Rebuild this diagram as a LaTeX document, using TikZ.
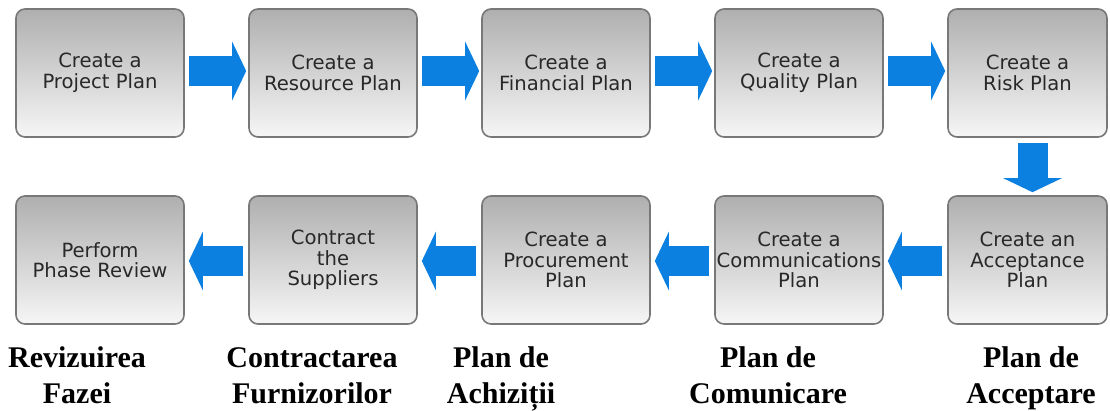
\documentclass[tikz,border=0pt]{standalone}
\usepackage{fontspec}
\usepackage{tikz}
\usetikzlibrary{arrows.meta}
\newfontfamily\boxfont{DejaVu Sans}
\newfontfamily\labelfont{Liberation Serif}
\definecolor{boxtop}{RGB}{175,175,175}
\definecolor{boxbottom}{RGB}{246,246,246}
\definecolor{boxedge}{RGB}{120,120,120}
\definecolor{boxtext}{RGB}{40,40,40}
\definecolor{flowblue}{RGB}{12,128,224}
\tikzset{
  stepbox/.style={rectangle, rounded corners=9pt, draw=boxedge, line width=1.6pt,
    top color=boxtop, bottom color=boxbottom, minimum width=168pt, minimum height=128pt,
    inner sep=0pt, align=center, text=boxtext, font=\boxfont\fontsize{19.6}{20.6}\selectfont},
  lastbox/.style={stepbox, minimum width=159pt},
  flowarrow/.style={draw=flowblue, line width=30pt, -{Triangle[length=14pt,width=58pt]}},
  roname/.style={anchor=north, inner sep=0pt, align=center,
    font=\labelfont\bfseries\fontsize{30}{36}\selectfont}
}
\begin{document}
\begin{tikzpicture}[x=1pt,y=1pt]
        \useasboundingbox (0,0) rectangle (1110,410);
        \fill[white] (0,0) rectangle (1110,410);

        % first row
        \node[stepbox] (project) at (100,337) {Create a\\Project Plan};
        \node[stepbox] (resource) at (333,337) {Create a\\Resource Plan};
        \node[stepbox] (financial) at (566,337) {Create a\\Financial Plan};
        \node[stepbox] (quality) at (799,337) {Create a\\Quality Plan};
        \node[lastbox] (risk) at (1027.5,337) {Create a\\Risk Plan};

        % second row
        \node[lastbox] (acceptance) at (1027.5,150) {Create an\\Acceptance\\Plan};
        \node[stepbox] (communications) at (799,150) {Create a\\Communications\\Plan};
        \node[stepbox] (procurement) at (566,150) {Create a\\Procurement\\Plan};
        \node[stepbox] (contract) at (333,150) {Contract\\the\\Suppliers};
        \node[stepbox] (review) at (100,150) {Perform\\Phase Review};

        % arrows
        \draw[flowarrow] ([xshift=4pt,yshift=2pt]project.east) -- ([xshift=-2pt,yshift=2pt]resource.west);
        \draw[flowarrow] ([xshift=4pt,yshift=2pt]resource.east) -- ([xshift=-2pt,yshift=2pt]financial.west);
        \draw[flowarrow] ([xshift=4pt,yshift=2pt]financial.east) -- ([xshift=-2pt,yshift=2pt]quality.west);
        \draw[flowarrow] ([xshift=4pt,yshift=2pt]quality.east) -- ([xshift=-2pt,yshift=2pt]risk.west);
        \draw[flowarrow] ([xshift=5pt,yshift=-5pt]risk.south) -- ([xshift=5pt,yshift=3pt]acceptance.north);
        \draw[flowarrow] ([xshift=-5pt,yshift=-1pt]acceptance.west) -- ([xshift=4pt,yshift=-1pt]communications.east);
        \draw[flowarrow] ([xshift=-5pt,yshift=-1pt]communications.west) -- ([xshift=4pt,yshift=-1pt]procurement.east);
        \draw[flowarrow] ([xshift=-5pt,yshift=-1pt]procurement.west) -- ([xshift=4pt,yshift=-1pt]contract.east);
        \draw[flowarrow] ([xshift=-5pt,yshift=-1pt]contract.west) -- ([xshift=4pt,yshift=-1pt]review.east);

        % romanian names
        \node[roname] (revizuirea) at (77,68) {\strut Revizuirea\\\strut Fazei};
        \node[roname] (contractarea) at (312,68) {\strut Contractarea\\\strut Furnizorilor};
        \node[roname] (achizitii) at (501,68) {\strut Plan de\\\strut Achiziții};
        \node[roname] (comunicare) at (768,68) {\strut Plan de\\\strut Comunicare};
        \node[roname] (acceptare) at (1031,68) {\strut Plan de\\\strut Acceptare};

        \end{tikzpicture}
\end{document}
